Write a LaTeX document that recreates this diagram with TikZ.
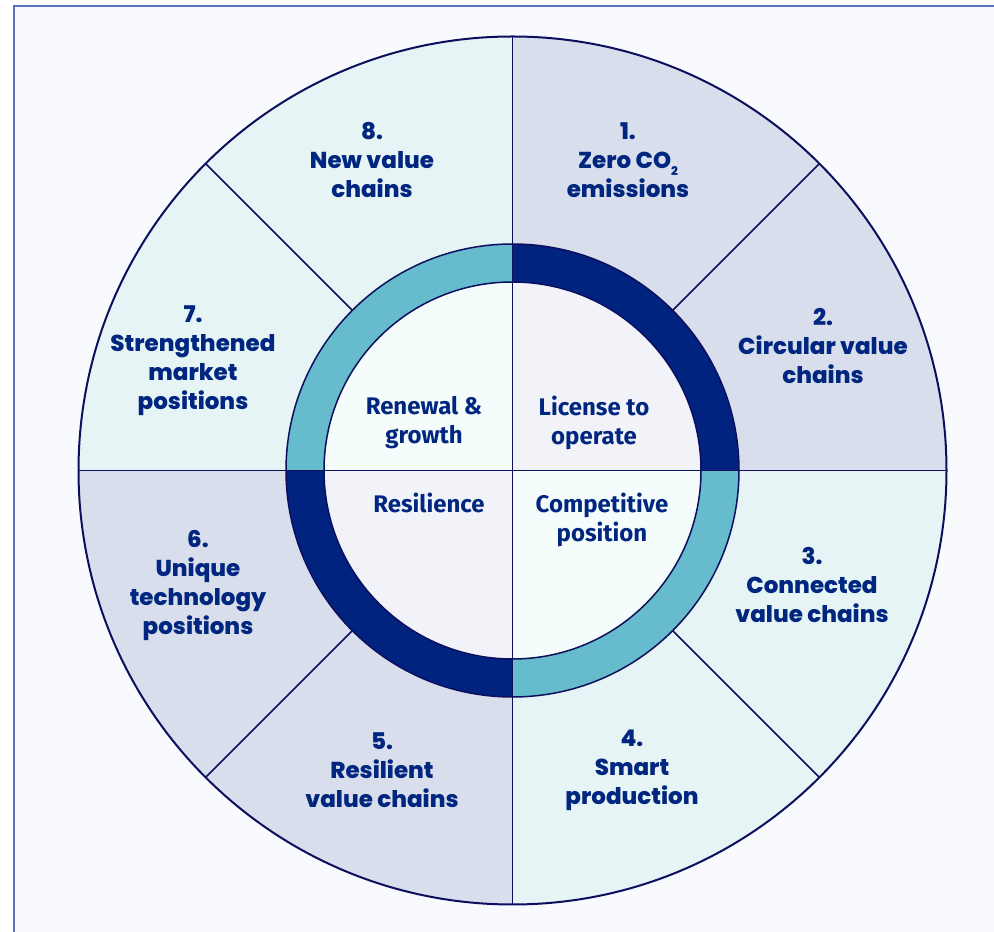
\documentclass[tikz,border=0pt]{standalone}
\usepackage{fontspec}
\usetikzlibrary{calc}
\newfontfamily\outerfont{Poppins ExtraBold}
\newfontfamily\innerfont{Fira Sans}
\definecolor{navy}{HTML}{00267F}
\definecolor{lineblue}{HTML}{0B0F5E}
\definecolor{ringdark}{HTML}{00237F}
\definecolor{ringteal}{HTML}{66BBCC}
\definecolor{seglav}{HTML}{D9DEEC}
\definecolor{segteal}{HTML}{E6F4F6}
\definecolor{inlav}{HTML}{F2F3F9}
\definecolor{inteal}{HTML}{F5FCFC}
\definecolor{bgcol}{HTML}{F9FAFD}
\definecolor{framecol}{HTML}{5A72C2}
\tikzset{
  outerlbl/.style={text=navy, font=\outerfont\fontsize{23}{29}\selectfont, align=center, inner sep=0pt},
  innerlbl/.style={text=navy, font=\innerfont\bfseries\fontsize{24}{29}\selectfont, align=center, inner sep=0pt},
  divider/.style={draw=lineblue, line width=1.5pt},
}
\newcommand{\subtwo}{\raisebox{-0.3em}{\fontsize{12}{12}\selectfont 2}}
\begin{document}
\begin{tikzpicture}[x=1pt,y=1pt]
\useasboundingbox (0,0) rectangle (994,932);
\fill[white] (0,0) rectangle (994,932);
\fill[bgcol] (13.5,0) rectangle (994,926.3);
\draw[framecol, line width=2pt] (13.5,0) -- (13.5,926.3) -- (994,926.3);
\coordinate (O) at (512.5,461.5);
% outer sectors
\fill[seglav] (O) -- ++(90:434) arc[start angle=90, end angle=0, radius=434] -- cycle;
\fill[segteal] (O) -- ++(0:434) arc[start angle=0, end angle=-90, radius=434] -- cycle;
\fill[seglav] (O) -- ++(-90:434) arc[start angle=-90, end angle=-180, radius=434] -- cycle;
\fill[segteal] (O) -- ++(180:434) arc[start angle=180, end angle=90, radius=434] -- cycle;
% ring
\fill[ringdark] (O) -- ++(90:226.5) arc[start angle=90, end angle=0, radius=226.5] -- cycle;
\fill[ringteal] (O) -- ++(0:226.5) arc[start angle=0, end angle=-90, radius=226.5] -- cycle;
\fill[ringdark] (O) -- ++(-90:226.5) arc[start angle=-90, end angle=-180, radius=226.5] -- cycle;
\fill[ringteal] (O) -- ++(180:226.5) arc[start angle=180, end angle=90, radius=226.5] -- cycle;
% inner quadrants
\fill[inlav] (O) -- ++(90:188.5) arc[start angle=90, end angle=0, radius=188.5] -- cycle;
\fill[inteal] (O) -- ++(0:188.5) arc[start angle=0, end angle=-90, radius=188.5] -- cycle;
\fill[inlav] (O) -- ++(-90:188.5) arc[start angle=-90, end angle=-180, radius=188.5] -- cycle;
\fill[inteal] (O) -- ++(180:188.5) arc[start angle=180, end angle=90, radius=188.5] -- cycle;
% lines
\draw[divider] (O) circle[radius=226.5];
\draw[divider] (O) circle[radius=188.5];
\foreach \a in {45,135,225,315}
  \draw[divider] ($(O)+(\a:226.5)$) -- ($(O)+(\a:434)$);
\draw[divider] ($(O)+(90:434)$) -- ($(O)+(-90:434)$);
\draw[divider] ($(O)+(180:434)$) -- ($(O)+(0:434)$);
\draw[lineblue, line width=2pt] (O) circle[radius=434];
% outer labels
\node[outerlbl] (s1) at (628,772) {1.\\Zero CO\subtwo\\emissions};
\node[outerlbl] (s2) at (823,586) {2.\\Circular value\\chains};
\node[outerlbl] (s3) at (812,347) {3.\\Connected\\value chains};
\node[outerlbl] (s4) at (632,162) {4.\\Smart\\production};
\node[outerlbl] (s5) at (382,162) {5.\\Resilient\\value chains};
\node[outerlbl] (s6) at (198,346.5) {6.\\Unique\\technology\\positions};
\node[outerlbl] (s7) at (193,571.5) {7.\\Strengthened\\market\\positions};
\node[outerlbl] (s8) at (372,772) {8.\\New value\\chains};
% inner labels
\node[innerlbl] (q1) at (594,509.5) {License to\\operate};
\node[innerlbl] (q2) at (424,509.5) {Renewal \&\\growth};
\node[innerlbl] (q3) at (429,429) {Resilience};
\node[innerlbl] (q4) at (602,412.5) {Competitive\\position};
\end{tikzpicture}
\end{document}
